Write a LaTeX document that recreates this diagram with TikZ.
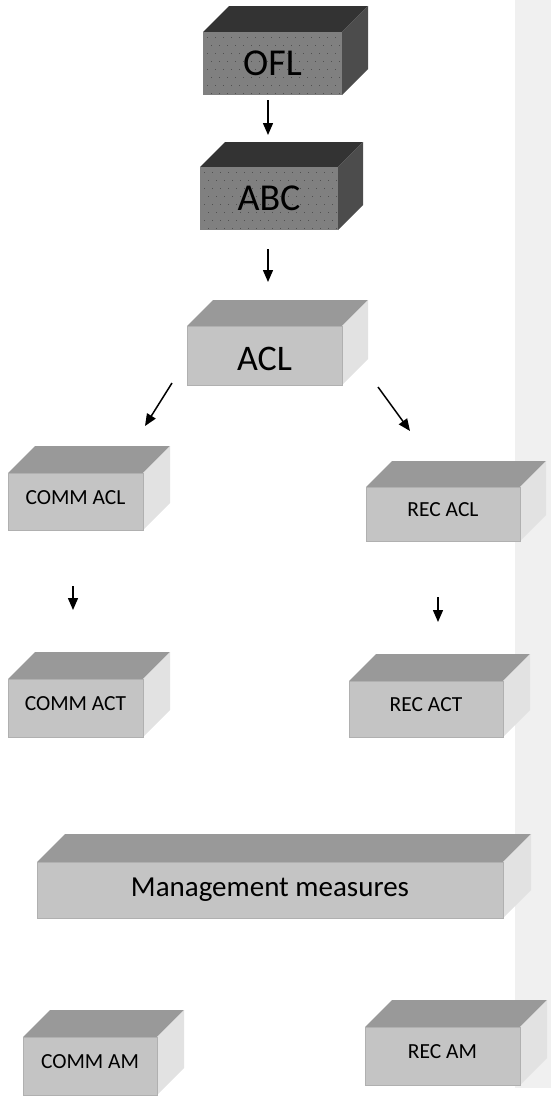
\documentclass[tikz,border=0pt]{standalone}
\usepackage{fontspec}
\setmainfont{Carlito}
\usetikzlibrary{arrows.meta}
\definecolor{lfrontc}{RGB}{196,196,196}
\definecolor{ltopc}{RGB}{153,153,153}
\definecolor{lsidec}{RGB}{226,226,226}
\definecolor{ledgec}{RGB}{176,176,176}
\definecolor{dfrontc}{RGB}{128,128,128}
\definecolor{dtopc}{RGB}{51,51,51}
\definecolor{dsidec}{RGB}{76,76,76}
\definecolor{dotc}{RGB}{80,80,80}
\definecolor{stripc}{RGB}{240,240,240}
\tikzset{
  ltop/.style={fill=ltopc},
  lside/.style={fill=lsidec},
  lfront/.style={fill=lfrontc, draw=ledgec, line width=0.6pt},
  dtop/.style={fill=dtopc},
  dside/.style={fill=dsidec},
  dfront/.style={fill=dfrontc},
  boxtext/.style={inner sep=0pt, outer sep=0pt, text=black},
  arr/.style={-{Triangle[length=12pt,width=10pt]}, line width=1.5pt, black},
  fbig/.style={font=\fontsize{38}{40}\selectfont},
  fmid/.style={font=\fontsize{36}{38}\selectfont, yshift=-3pt},
  fmm/.style={font=\fontsize{29}{31}\selectfont},
  fsmall/.style={font=\fontsize{21.5}{23}\selectfont, yshift=4pt},
}
% #1 name, #2 x1, #3 y1, #4 x2, #5 y2, #6 depth, #7 font style, #8 text
\newcommand\lightbox[8]{%
  \fill[ltop] (#2,#3) -- (#2+#6,#3-#6) -- (#4+#6,#3-#6) -- (#4,#3) -- cycle;
  \fill[lside] (#4,#3) -- (#4+#6,#3-#6) -- (#4+#6,#5-#6) -- (#4,#5) -- cycle;
  \draw[lfront] (#2,#3) rectangle (#4,#5);
  \node[boxtext, #7, minimum width={(#4-#2)*1pt}, minimum height={(#5-#3)*1pt}, anchor=north west] (#1) at (#2,#3) {#8};
}
\newcommand\darkbox[8]{%
  \fill[dtop] (#2,#3) -- (#2+#6,#3-#6) -- (#4+#6,#3-#6) -- (#4,#3) -- cycle;
  \fill[dside] (#4,#3) -- (#4+#6,#3-#6) -- (#4+#6,#5-#6) -- (#4,#5) -- cycle;
  \fill[dfront] (#2,#3) rectangle (#4,#5);
  \begin{scope}
    \clip (#2,#3) rectangle (#4,#5);
    \foreach \i in {0,...,18}{\foreach \j in {0,...,8}{%
      \fill[dotc] ({#2+4+\i*8+mod(\j,2)*4},{#3+5+\j*8}) rectangle ++(1.4,1.4);}}
  \end{scope}
  \node[boxtext, #7, minimum width={(#4-#2)*1pt}, minimum height={(#5-#3)*1pt}, anchor=north west] (#1) at (#2,#3) {#8};
}
\begin{document}
\begin{tikzpicture}[x=1pt,y=-1pt]
\useasboundingbox (0,0) rectangle (551,1101);
\fill[stripc] (515,0) rectangle (551,1088);

\darkbox{ofl}{203}{32}{342}{95}{26}{fbig}{OFL}
\darkbox{abc}{200}{167}{338}{230}{25}{fbig}{ABC}
\lightbox{acl}{187}{326}{342}{385}{26}{fmid}{ACL}
\lightbox{commacl}{8}{473}{143}{530}{27}{fsmall}{COMM ACL}
\lightbox{recacl}{366}{487}{520}{541}{26}{fsmall}{REC ACL}
\lightbox{commact}{8}{679}{143}{737}{27}{fsmall}{COMM ACT}
\lightbox{recact}{349}{681}{503}{737}{27}{fsmall}{REC ACT}
\lightbox{mm}{37}{862}{503}{918}{28}{fmm}{Management measures}
\lightbox{commam}{23}{1037}{157}{1095}{27}{fsmall}{COMM AM}
\lightbox{recam}{365}{1027}{520}{1085}{27}{fsmall}{REC AM}

\coordinate (a1s) at (268,100);  \coordinate (a1e) at (268,135);
\coordinate (a2s) at (268,249);  \coordinate (a2e) at (268,282);
\coordinate (a3s) at (172,383);  \coordinate (a3e) at (145,426);
\coordinate (a4s) at (378,387);  \coordinate (a4e) at (410,431);
\coordinate (a5s) at (73,586);   \coordinate (a5e) at (73,610);
\coordinate (a6s) at (438,597);  \coordinate (a6e) at (438,622);
\draw[arr] (a1s) -- (a1e);
\draw[arr] (a2s) -- (a2e);
\draw[arr] (a3s) -- (a3e);
\draw[arr] (a4s) -- (a4e);
\draw[arr] (a5s) -- (a5e);
\draw[arr] (a6s) -- (a6e);
\end{tikzpicture}
\end{document}
